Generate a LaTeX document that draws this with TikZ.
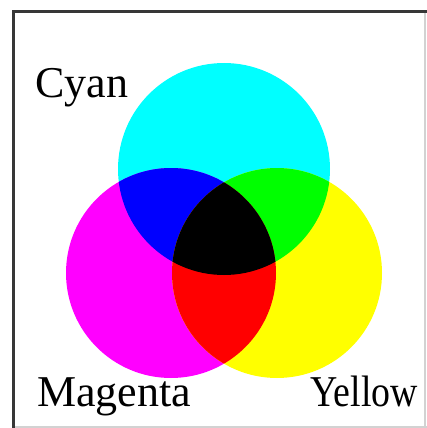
\documentclass[tikz,border=0pt]{standalone}
\usepackage{fontspec}
\usepackage{graphicx}
\newfontfamily\labfont{Liberation Serif}
\definecolor{cyanc}{RGB}{0,255,255}
\definecolor{magc}{RGB}{255,0,255}
\definecolor{yelc}{RGB}{255,255,0}
\definecolor{bluec}{RGB}{0,0,255}
\definecolor{greenc}{RGB}{0,255,0}
\definecolor{redc}{RGB}{255,0,0}
\definecolor{framedark}{RGB}{55,55,55}
\definecolor{framelight}{RGB}{210,210,210}
\begin{document}
\begin{tikzpicture}[x=1pt,y=-1pt,
  lab/.style={anchor=base west,inner sep=0pt,font=\labfont\fontsize{44}{52}\selectfont}]
\useasboundingbox (0,0) rectangle (427,428);
\fill[white] (0,0) rectangle (427,428);
% frame
\draw[framelight,line width=2pt] (424.5,11) -- (424.5,428);
\draw[framelight,line width=2pt] (13,426.5) -- (427,426.5);
\draw[framedark,line width=3pt] (13.5,428) -- (13.5,11.5) -- (427,11.5);
% circles
\def\cyanc{(224,169) circle (106)}
\def\magc{(171,273) circle (105)}
\def\yelc{(277,273) circle (105)}
\fill[cyanc] \cyanc;
\fill[magc] \magc;
\fill[yelc] \yelc;
\begin{scope}
  \clip \cyanc;
  \fill[bluec] \magc;
  \fill[greenc] \yelc;
\end{scope}
\begin{scope}
  \clip \magc;
  \fill[redc] \yelc;
  \clip \yelc;
  \fill[black] \cyanc;
\end{scope}
% labels
\node[lab] (cyan) at (35,97) {Cyan};
\node[lab] (magenta) at (37,406) {Magenta};
\node[lab] (yellow) at (310,406) {\scalebox{0.86}[1]{Yellow}};
\end{tikzpicture}
\end{document}
